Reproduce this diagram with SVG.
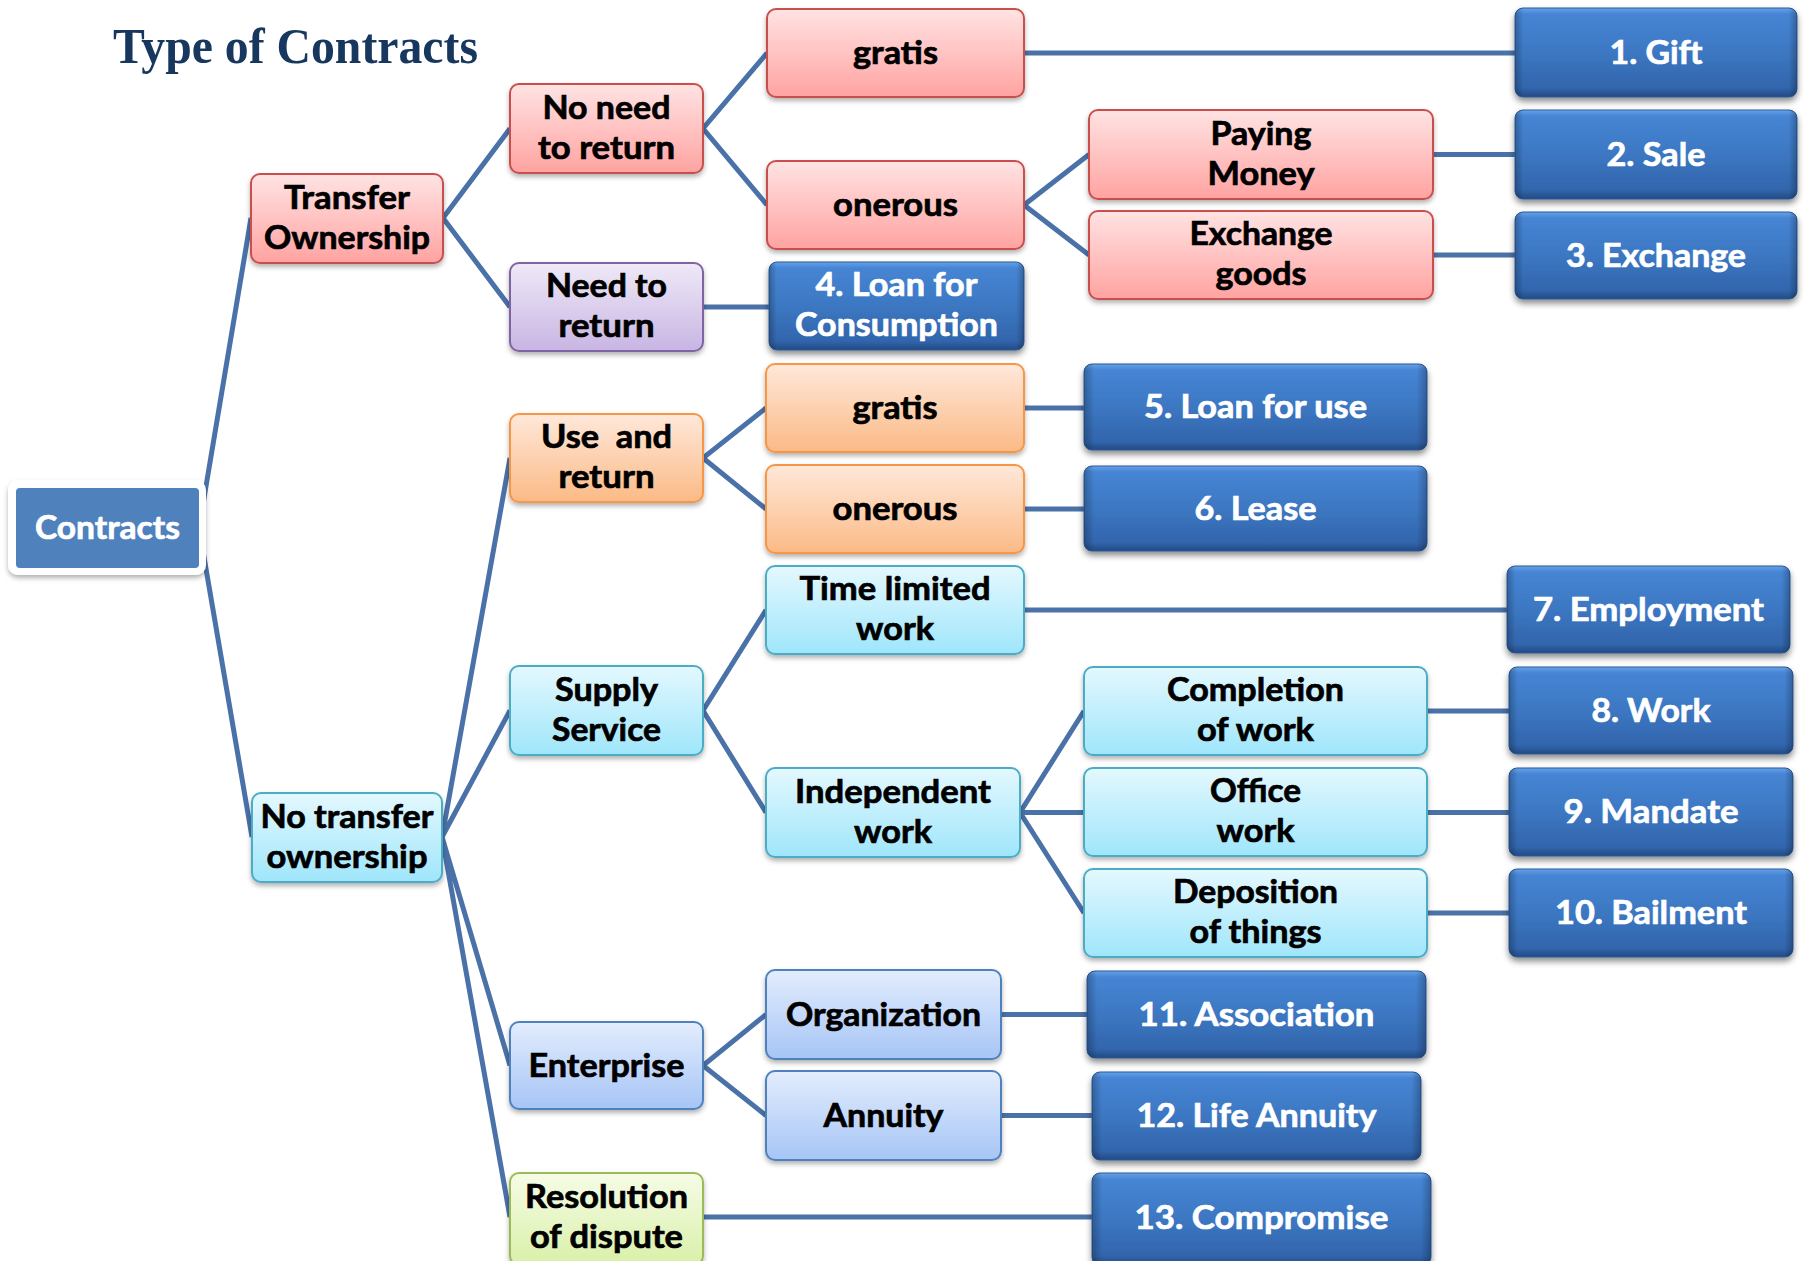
<svg xmlns="http://www.w3.org/2000/svg" width="1808" height="1261" viewBox="0 0 1808 1261">
<defs>
  <linearGradient id="gPink" x1="0" y1="0" x2="0" y2="1"><stop offset="0" stop-color="#FFE3E3"/><stop offset="1" stop-color="#FFA3A1"/></linearGradient>
  <linearGradient id="gPurple" x1="0" y1="0" x2="0" y2="1"><stop offset="0" stop-color="#EFE9F7"/><stop offset="1" stop-color="#C8B5E3"/></linearGradient>
  <linearGradient id="gOrange" x1="0" y1="0" x2="0" y2="1"><stop offset="0" stop-color="#FFE8DA"/><stop offset="1" stop-color="#FBBA86"/></linearGradient>
  <linearGradient id="gCyan" x1="0" y1="0" x2="0" y2="1"><stop offset="0" stop-color="#E4F8FE"/><stop offset="1" stop-color="#9FE6FB"/></linearGradient>
  <linearGradient id="gLBlue" x1="0" y1="0" x2="0" y2="1"><stop offset="0" stop-color="#E3EDFD"/><stop offset="1" stop-color="#A6C5F6"/></linearGradient>
  <linearGradient id="gGreen" x1="0" y1="0" x2="0" y2="1"><stop offset="0" stop-color="#F6FCE6"/><stop offset="1" stop-color="#D9F0A9"/></linearGradient>
  <linearGradient id="gDark" x1="0" y1="0" x2="0" y2="1">
    <stop offset="0" stop-color="#66A2E8"/><stop offset="0.07" stop-color="#4685D4"/><stop offset="0.5" stop-color="#3C77C2"/><stop offset="0.9" stop-color="#3265AC"/><stop offset="1" stop-color="#224A84"/>
  </linearGradient>
  <linearGradient id="gSide" x1="0" y1="0" x2="1" y2="0">
    <stop offset="0" stop-color="#000" stop-opacity="0.25"/><stop offset="0.03" stop-color="#000" stop-opacity="0"/><stop offset="0.97" stop-color="#000" stop-opacity="0"/><stop offset="1" stop-color="#000" stop-opacity="0.25"/>
  </linearGradient>
  <filter id="sh" x="-10%" y="-10%" width="120%" height="130%"><feDropShadow dx="0" dy="3" stdDeviation="2.5" flood-color="#000" flood-opacity="0.3"/></filter>
  <filter id="sh2" x="-10%" y="-10%" width="120%" height="130%"><feDropShadow dx="0" dy="4" stdDeviation="3" flood-color="#000" flood-opacity="0.45"/></filter>
</defs>
<style>
  .t{font-family:Lato,"Open Sans","Liberation Sans",sans-serif;font-weight:bold;font-size:33px;text-anchor:middle;fill:#000;stroke:#000;stroke-width:0.7px}
  .w{fill:#fff;stroke:#fff}
  .pink{fill:url(#gPink);stroke:#C9504D;stroke-width:2;filter:url(#sh)}
  .purple{fill:url(#gPurple);stroke:#8064A2;stroke-width:2;filter:url(#sh)}
  .orange{fill:url(#gOrange);stroke:#F79646;stroke-width:2;filter:url(#sh)}
  .cyan{fill:url(#gCyan);stroke:#4BACC6;stroke-width:2;filter:url(#sh)}
  .lblue{fill:url(#gLBlue);stroke:#4F81BD;stroke-width:2;filter:url(#sh)}
  .green{fill:url(#gGreen);stroke:#9BBB59;stroke-width:2;filter:url(#sh)}
  .dark{fill:url(#gDark);stroke:#2C5A96;stroke-width:1;filter:url(#sh2)}
  .side{fill:url(#gSide)}
  .c{stroke:#4A71A8;stroke-width:5;fill:none;stroke-linejoin:miter}
</style>
<rect width="1808" height="1261" fill="#fff"/>
<text x="113" y="63" textLength="365" lengthAdjust="spacingAndGlyphs" style="font-family:'Liberation Serif','Times New Roman',serif;font-weight:bold;font-size:51px;fill:#17375E">Type of Contracts</text>

<g id="connectors">
  <polyline class="c" points="251,218 199,528 252,837"/>
  <polyline class="c" points="510,128.5 443,218 510,307"/>
  <polyline class="c" points="767,53 703,128.5 767,205"/>
  <line class="c" x1="703" y1="307" x2="769" y2="307"/>
  <line class="c" x1="1024" y1="53" x2="1515" y2="53"/>
  <polyline class="c" points="1089,154.5 1024,205 1089,255"/>
  <line class="c" x1="1433" y1="154.5" x2="1515" y2="154.5"/>
  <line class="c" x1="1433" y1="255" x2="1515" y2="255"/>
  <polyline class="c" points="510,458 442,837 510,710.5"/>
  <polyline class="c" points="510,1065.5 442,837 510,1217"/>
  <polyline class="c" points="766,408 703,458 766,509"/>
  <line class="c" x1="1024" y1="408" x2="1084" y2="408"/>
  <line class="c" x1="1024" y1="509" x2="1084" y2="509"/>
  <polyline class="c" points="766,610 703,710.5 766,812.5"/>
  <line class="c" x1="1024" y1="610" x2="1507" y2="610"/>
  <polyline class="c" points="1084,711 1020,812.5 1084,913"/>
  <line class="c" x1="1020" y1="812.5" x2="1084" y2="812.5"/>
  <line class="c" x1="1427" y1="711" x2="1509" y2="711"/>
  <line class="c" x1="1427" y1="812.5" x2="1509" y2="812.5"/>
  <line class="c" x1="1427" y1="913" x2="1509" y2="913"/>
  <polyline class="c" points="766,1014.5 703,1065.5 766,1115.5"/>
  <line class="c" x1="1001" y1="1014.5" x2="1087" y2="1014.5"/>
  <line class="c" x1="1001" y1="1115.5" x2="1092" y2="1115.5"/>
  <line class="c" x1="703" y1="1217" x2="1092" y2="1217"/>
</g>

<g id="contracts">
  <rect x="8" y="480" width="198" height="95" rx="10" fill="#fff" filter="url(#sh)"/>
  <rect x="16" y="488" width="183" height="80" rx="4" fill="#4F81BD"/>
  <text class="t w" x="107.5" y="539" textLength="145" lengthAdjust="spacingAndGlyphs">Contracts</text>
</g>

<g id="transfer-ownership"><rect class="pink" x="251" y="174" width="192" height="89" rx="9"/>
  <text class="t" x="347" y="208.5" textLength="126" lengthAdjust="spacingAndGlyphs">Transfer</text>
  <text class="t" x="347" y="248.5" textLength="166" lengthAdjust="spacingAndGlyphs">Ownership</text></g>
<g id="no-transfer-ownership"><rect class="cyan" x="252" y="793" width="190" height="89" rx="9"/>
  <text class="t" x="347" y="827.5" textLength="173" lengthAdjust="spacingAndGlyphs">No transfer</text>
  <text class="t" x="347" y="867.5" textLength="161" lengthAdjust="spacingAndGlyphs">ownership</text></g>

<g id="no-need-to-return"><rect class="pink" x="510" y="84" width="193" height="89" rx="9"/>
  <text class="t" x="606.5" y="118.5" textLength="128" lengthAdjust="spacingAndGlyphs">No need</text>
  <text class="t" x="606.5" y="158.5" textLength="137" lengthAdjust="spacingAndGlyphs">to return</text></g>
<g id="need-to-return"><rect class="purple" x="510" y="263" width="193" height="88" rx="9"/>
  <text class="t" x="606.5" y="297" textLength="121" lengthAdjust="spacingAndGlyphs">Need to</text>
  <text class="t" x="606.5" y="337" textLength="96" lengthAdjust="spacingAndGlyphs">return</text></g>
<g id="use-and-return"><rect class="orange" x="510" y="414" width="193" height="88" rx="9"/>
  <text class="t" x="606.5" y="448" textLength="131" lengthAdjust="spacingAndGlyphs" xml:space="preserve">Use  and</text>
  <text class="t" x="606.5" y="488" textLength="96" lengthAdjust="spacingAndGlyphs">return</text></g>
<g id="supply-service"><rect class="cyan" x="510" y="666" width="193" height="89" rx="9"/>
  <text class="t" x="606.5" y="700.5" textLength="103" lengthAdjust="spacingAndGlyphs">Supply</text>
  <text class="t" x="606.5" y="740.5" textLength="109" lengthAdjust="spacingAndGlyphs">Service</text></g>
<g id="enterprise"><rect class="lblue" x="510" y="1022" width="193" height="87" rx="9"/>
  <text class="t" x="606.5" y="1076.5" textLength="156" lengthAdjust="spacingAndGlyphs">Enterprise</text></g>
<g id="resolution-of-dispute"><rect class="green" x="510" y="1173" width="193" height="92" rx="9"/>
  <text class="t" x="606.5" y="1207.5" textLength="163" lengthAdjust="spacingAndGlyphs">Resolution</text>
  <text class="t" x="606.5" y="1247.5" textLength="153" lengthAdjust="spacingAndGlyphs">of dispute</text></g>

<g id="gratis-1"><rect class="pink" x="767" y="9" width="257" height="88" rx="9"/>
  <text class="t" x="895.5" y="64" textLength="85" lengthAdjust="spacingAndGlyphs">gratis</text></g>
<g id="onerous-1"><rect class="pink" x="767" y="161" width="257" height="88" rx="9"/>
  <text class="t" x="895.5" y="216" textLength="125" lengthAdjust="spacingAndGlyphs">onerous</text></g>
<g id="paying-money"><rect class="pink" x="1089" y="110" width="344" height="89" rx="9"/>
  <text class="t" x="1261" y="144.5" textLength="101" lengthAdjust="spacingAndGlyphs">Paying</text>
  <text class="t" x="1261" y="184.5" textLength="107" lengthAdjust="spacingAndGlyphs">Money</text></g>
<g id="exchange-goods"><rect class="pink" x="1089" y="211" width="344" height="88" rx="9"/>
  <text class="t" x="1261" y="245" textLength="143" lengthAdjust="spacingAndGlyphs">Exchange</text>
  <text class="t" x="1261" y="285" textLength="91" lengthAdjust="spacingAndGlyphs">goods</text></g>
<g id="gratis-2"><rect class="orange" x="766" y="364" width="258" height="88" rx="9"/>
  <text class="t" x="895" y="419" textLength="85" lengthAdjust="spacingAndGlyphs">gratis</text></g>
<g id="onerous-2"><rect class="orange" x="766" y="465" width="258" height="88" rx="9"/>
  <text class="t" x="895" y="520" textLength="125" lengthAdjust="spacingAndGlyphs">onerous</text></g>
<g id="time-limited-work"><rect class="cyan" x="766" y="566" width="258" height="88" rx="9"/>
  <text class="t" x="895" y="600" textLength="191" lengthAdjust="spacingAndGlyphs">Time limited</text>
  <text class="t" x="895" y="640" textLength="78" lengthAdjust="spacingAndGlyphs">work</text></g>
<g id="independent-work"><rect class="cyan" x="766" y="768" width="254" height="89" rx="9"/>
  <text class="t" x="893" y="802.5" textLength="196" lengthAdjust="spacingAndGlyphs">Independent</text>
  <text class="t" x="893" y="842.5" textLength="78" lengthAdjust="spacingAndGlyphs">work</text></g>
<g id="completion-of-work"><rect class="cyan" x="1084" y="667" width="343" height="88" rx="9"/>
  <text class="t" x="1255.5" y="701" textLength="177" lengthAdjust="spacingAndGlyphs">Completion</text>
  <text class="t" x="1255.5" y="741" textLength="117" lengthAdjust="spacingAndGlyphs">of work</text></g>
<g id="office-work"><rect class="cyan" x="1084" y="768" width="343" height="88" rx="9"/>
  <text class="t" x="1255.5" y="802" textLength="91" lengthAdjust="spacingAndGlyphs">Office</text>
  <text class="t" x="1255.5" y="842" textLength="78" lengthAdjust="spacingAndGlyphs">work</text></g>
<g id="deposition-of-things"><rect class="cyan" x="1084" y="869" width="343" height="88" rx="9"/>
  <text class="t" x="1255.5" y="903" textLength="165" lengthAdjust="spacingAndGlyphs">Deposition</text>
  <text class="t" x="1255.5" y="943" textLength="132" lengthAdjust="spacingAndGlyphs">of things</text></g>
<g id="organization"><rect class="lblue" x="766" y="970" width="235" height="89" rx="9"/>
  <text class="t" x="883.5" y="1025.5" textLength="195" lengthAdjust="spacingAndGlyphs">Organization</text></g>
<g id="annuity"><rect class="lblue" x="766" y="1071" width="235" height="89" rx="9"/>
  <text class="t" x="883.5" y="1126.5" textLength="120" lengthAdjust="spacingAndGlyphs">Annuity</text></g>

<g id="r4-loan-for-consumption"><rect class="dark" x="769" y="262" width="255" height="88" rx="8"/><rect class="side" x="769" y="262" width="255" height="88" rx="8"/>
  <text class="t w" x="896.5" y="296" textLength="162" lengthAdjust="spacingAndGlyphs">4. Loan for</text>
  <text class="t w" x="896.5" y="336" textLength="203" lengthAdjust="spacingAndGlyphs">Consumption</text></g>
<g id="r1-gift"><rect class="dark" x="1515" y="8" width="282" height="89" rx="8"/><rect class="side" x="1515" y="8" width="282" height="89" rx="8"/>
  <text class="t w" x="1656" y="63.5" textLength="93" lengthAdjust="spacingAndGlyphs">1. Gift</text></g>
<g id="r2-sale"><rect class="dark" x="1515" y="110" width="282" height="89" rx="8"/><rect class="side" x="1515" y="110" width="282" height="89" rx="8"/>
  <text class="t w" x="1656" y="165.5" textLength="99" lengthAdjust="spacingAndGlyphs">2. Sale</text></g>
<g id="r3-exchange"><rect class="dark" x="1515" y="212" width="282" height="87" rx="8"/><rect class="side" x="1515" y="212" width="282" height="87" rx="8"/>
  <text class="t w" x="1656" y="266.5" textLength="180" lengthAdjust="spacingAndGlyphs">3. Exchange</text></g>
<g id="r5-loan-for-use"><rect class="dark" x="1084" y="364" width="343" height="86" rx="8"/><rect class="side" x="1084" y="364" width="343" height="86" rx="8"/>
  <text class="t w" x="1255.5" y="418" textLength="223" lengthAdjust="spacingAndGlyphs">5. Loan for use</text></g>
<g id="r6-lease"><rect class="dark" x="1084" y="466" width="343" height="85" rx="8"/><rect class="side" x="1084" y="466" width="343" height="85" rx="8"/>
  <text class="t w" x="1255.5" y="519.5" textLength="122" lengthAdjust="spacingAndGlyphs">6. Lease</text></g>
<g id="r7-employment"><rect class="dark" x="1507" y="566" width="283" height="87" rx="8"/><rect class="side" x="1507" y="566" width="283" height="87" rx="8"/>
  <text class="t w" x="1648.5" y="620.5" textLength="231" lengthAdjust="spacingAndGlyphs">7. Employment</text></g>
<g id="r8-work"><rect class="dark" x="1509" y="667" width="284" height="87" rx="8"/><rect class="side" x="1509" y="667" width="284" height="87" rx="8"/>
  <text class="t w" x="1651" y="721.5" textLength="119" lengthAdjust="spacingAndGlyphs">8. Work</text></g>
<g id="r9-mandate"><rect class="dark" x="1509" y="768" width="284" height="88" rx="8"/><rect class="side" x="1509" y="768" width="284" height="88" rx="8"/>
  <text class="t w" x="1651" y="823" textLength="175" lengthAdjust="spacingAndGlyphs">9. Mandate</text></g>
<g id="r10-bailment"><rect class="dark" x="1509" y="869" width="284" height="88" rx="8"/><rect class="side" x="1509" y="869" width="284" height="88" rx="8"/>
  <text class="t w" x="1651" y="924" textLength="192" lengthAdjust="spacingAndGlyphs">10. Bailment</text></g>
<g id="r11-association"><rect class="dark" x="1087" y="971" width="339" height="87" rx="8"/><rect class="side" x="1087" y="971" width="339" height="87" rx="8"/>
  <text class="t w" x="1256.5" y="1025.5" textLength="236" lengthAdjust="spacingAndGlyphs">11. Association</text></g>
<g id="r12-life-annuity"><rect class="dark" x="1092" y="1072" width="329" height="88" rx="8"/><rect class="side" x="1092" y="1072" width="329" height="88" rx="8"/>
  <text class="t w" x="1256.5" y="1127" textLength="240" lengthAdjust="spacingAndGlyphs">12. Life Annuity</text></g>
<g id="r13-compromise"><rect class="dark" x="1092" y="1173" width="339" height="92" rx="8"/><rect class="side" x="1092" y="1173" width="339" height="92" rx="8"/>
  <text class="t w" x="1261.5" y="1228.5" textLength="254" lengthAdjust="spacingAndGlyphs">13. Compromise</text></g>
</svg>
